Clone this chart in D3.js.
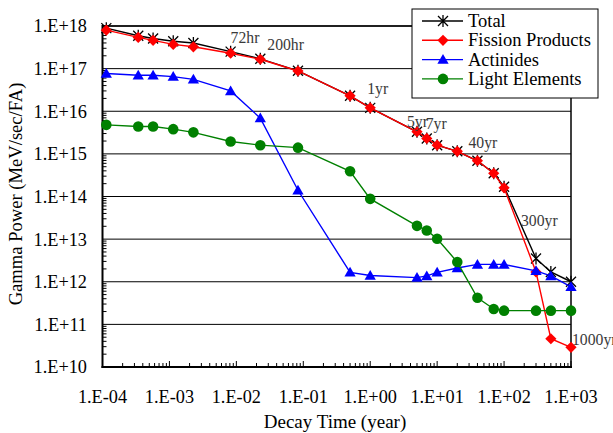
<!DOCTYPE html>
<html>
<head>
<meta charset="utf-8">
<script src="https://cdn.jsdelivr.net/npm/d3@7"></script>
<style>
  body { margin: 0; background: #fff; }
</style>
</head>
<body>
<svg id="chart" width="613" height="433" style="display:block"></svg>
<script>
// decay times (years): 1h,3h,5h,10h,20h,72h,200h,1mo,0.5y,1y,5y,7y,10y,20y,40y,70y,100y,300y,500y,1000y
const decayTimes = [1.14e-4, 3.42e-4, 5.70e-4, 1.14e-3, 2.28e-3, 8.21e-3, 2.28e-2, 8.33e-2, 0.5, 1, 5, 7, 10, 20, 40, 70, 100, 300, 500, 1000];

const totalPower = [8.9e17, 5.9e17, 5.1e17, 4.4e17, 4.0e17, 2.5e17, 1.7e17, 8.9e16, 2.3e16, 1.2e16, 3.3e15, 2.3e15, 1.6e15, 1.15e15, 6.9e14, 3.5e14, 1.7e14, 3.5e12, 1.7e12, 1.0e12];
const fissionPower = [8.0e17, 5.4e17, 4.6e17, 3.7e17, 3.25e17, 2.3e17, 1.66e17, 8.8e16, 2.3e16, 1.2e16, 3.3e15, 2.3e15, 1.6e15, 1.15e15, 6.9e14, 3.5e14, 1.6e14, 1.7e12, 4.6e10, 2.9e10];
const actinidePower = [7.7e16, 7.0e16, 7.0e16, 6.5e16, 5.6e16, 3.0e16, 6.9e15, 1.4e14, 1.66e12, 1.4e12, 1.25e12, 1.37e12, 1.66e12, 2.1e12, 2.55e12, 2.55e12, 2.55e12, 1.8e12, 1.37e12, 7.6e11];
const lightPower = [4.8e15, 4.4e15, 4.4e15, 3.8e15, 3.2e15, 1.95e15, 1.6e15, 1.4e15, 3.9e14, 8.8e13, 2.05e13, 1.6e13, 1.02e13, 2.9e12, 4.2e11, 2.3e11, 2.1e11, 2.1e11, 2.1e11, 2.1e11];

const seriesNames = ["Total", "Fission Products", "Actinides", "Light Elements"];
const xTickLabels = ["1.E-04", "1.E-03", "1.E-02", "1.E-01", "1.E+00", "1.E+01", "1.E+02", "1.E+03"];
const yTickLabels = ["1.E+10", "1.E+11", "1.E+12", "1.E+13", "1.E+14", "1.E+15", "1.E+16", "1.E+17", "1.E+18"];

// time labels placed next to points of the total curve
const noteLabels = ["72hr", "200hr", "1yr", "5yr", "7yr", "40yr", "300yr", "1000yr"];
const noteTimes = [8.21e-3, 2.28e-2, 1, 5, 7, 40, 300, 1000];

const svg = d3.select("#chart");
const pLeft = 102.5, pRight = 571, pTop = 26, pBottom = 367;
const serif = "Liberation Serif";

const x = d3.scaleLog().domain([1e-4, 1e3]).range([pLeft, pRight]);
const y = d3.scaleLog().domain([1e10, 1e18]).range([pBottom, pTop]);

const xDecades = d3.range(-4, 4).map(e => Math.pow(10, e));
const yDecades = d3.range(10, 19).map(e => Math.pow(10, e));

// horizontal grid
svg.append("g").selectAll("line").data(yDecades).join("line")
  .attr("x1", pLeft).attr("x2", pRight)
  .attr("y1", d => y(d)).attr("y2", d => y(d))
  .attr("stroke", "#000").attr("stroke-width", 1);

// frame top/right
svg.append("line").attr("x1", pLeft).attr("x2", pRight).attr("y1", pTop).attr("y2", pTop)
  .attr("stroke", "#000").attr("stroke-width", 1.5);
svg.append("line").attr("x1", pRight).attr("x2", pRight).attr("y1", pTop).attr("y2", pBottom)
  .attr("stroke", "#000").attr("stroke-width", 1.5);

// minor ticks
const minors = (lo, hi) => {
  const out = [];
  for (let e = lo; e < hi; e++) for (let m = 2; m <= 9; m++) out.push(m * Math.pow(10, e));
  return out;
};
svg.append("g").selectAll("line").data(minors(10, 18)).join("line")
  .attr("x1", pLeft).attr("x2", pLeft + 4)
  .attr("y1", d => y(d)).attr("y2", d => y(d))
  .attr("stroke", "#000").attr("stroke-width", 1);
svg.append("g").selectAll("line").data(minors(-4, 3)).join("line")
  .attr("x1", d => x(d)).attr("x2", d => x(d))
  .attr("y1", pBottom).attr("y2", pBottom - 4)
  .attr("stroke", "#000").attr("stroke-width", 1);
svg.append("g").selectAll("line").data(xDecades.slice(1)).join("line")
  .attr("x1", d => x(d)).attr("x2", d => x(d))
  .attr("y1", pBottom).attr("y2", pBottom - 6)
  .attr("stroke", "#000").attr("stroke-width", 1);

// axes lines
svg.append("line").attr("x1", pLeft).attr("x2", pLeft).attr("y1", pTop - 1).attr("y2", pBottom + 1)
  .attr("stroke", "#000").attr("stroke-width", 2);
svg.append("line").attr("x1", pLeft - 1).attr("x2", pRight + 1).attr("y1", pBottom).attr("y2", pBottom)
  .attr("stroke", "#000").attr("stroke-width", 2);

// tick labels
svg.append("g").selectAll("text").data(yDecades).join("text")
  .attr("x", 87).attr("y", d => y(d)).attr("dy", "0.35em")
  .attr("text-anchor", "end").attr("font-size", 18.3).attr("font-family", serif)
  .text((d, i) => yTickLabels[i]);
svg.append("g").selectAll("text").data(xDecades).join("text")
  .attr("x", d => x(d)).attr("y", 403)
  .attr("text-anchor", "middle").attr("font-size", 18.3).attr("font-family", serif)
  .text((d, i) => xTickLabels[i]);

// axis titles
svg.append("text").attr("x", 335).attr("y", 428)
  .attr("text-anchor", "middle").attr("font-size", 19).attr("font-family", serif)
  .text("Decay Time (year)");
svg.append("text").attr("transform", "translate(22,194) rotate(-90)")
  .attr("text-anchor", "middle").attr("font-size", 18.6).attr("font-family", serif)
  .text("Gamma Power (MeV/sec/FA)");

// marker symbols
const star = "M-5,-5L5,5M-5,5L5,-5M0,-6L0,6";
const styles = [
  { color: "#000000", marker: "star" },
  { color: "#FF0000", marker: d3.symbol(d3.symbolDiamond2, 80)() },
  { color: "#0000FF", marker: d3.symbol(d3.symbolTriangle, 55)() },
  { color: "#008000", marker: d3.symbol(d3.symbolCircle, 88)() }
];
const allSeries = [totalPower, fissionPower, actinidePower, lightPower];

const line = d3.line().x(d => x(d[0])).y(d => y(d[1]));

function drawMarker(g, s, px, py) {
  if (s.marker === "star") {
    g.append("path").attr("d", star).attr("transform", `translate(${px},${py})`)
      .attr("stroke", s.color).attr("stroke-width", 1.3).attr("fill", "none");
  } else {
    const t = s.marker === styles[2].marker ? `translate(${px},${py + 1})` : `translate(${px},${py})`;
    g.append("path").attr("d", s.marker).attr("transform", t).attr("fill", s.color);
  }
}

allSeries.forEach((vals, i) => {
  const pts = decayTimes.map((t, j) => [t, vals[j]]);
  const g = svg.append("g");
  g.append("path").attr("d", line(pts)).attr("fill", "none")
    .attr("stroke", styles[i].color).attr("stroke-width", 1.4);
  pts.forEach(p => drawMarker(g, styles[i], x(p[0]), y(p[1])));
});

// notes
const noteOffsets = [[0, -9], [7, -9], [-3, -14], [-10, -5], [-1, -9], [-9, -13], [-15, -33], [1, 63]];
svg.append("g").selectAll("text").data(noteLabels).join("text")
  .attr("x", (d, i) => x(noteTimes[i]) + noteOffsets[i][0])
  .attr("y", (d, i) => y(totalPower[decayTimes.indexOf(noteTimes[i])]) + noteOffsets[i][1])
  .attr("font-size", 15.7).attr("font-family", serif).attr("fill", "#3a3a3a")
  .text(d => d);

// legend
const lg = svg.append("g").attr("transform", "translate(412,9)");
lg.append("rect").attr("width", 186).attr("height", 89)
  .attr("fill", "#fff").attr("stroke", "#000").attr("stroke-width", 1);
seriesNames.forEach((name, i) => {
  const cy = 12 + i * 19.3;
  lg.append("line").attr("x1", 10).attr("x2", 51).attr("y1", cy).attr("y2", cy)
    .attr("stroke", styles[i].color).attr("stroke-width", 1.4);
  drawMarker(lg, styles[i], 31, cy);
  lg.append("text").attr("x", 56).attr("y", cy + 6).attr("font-size", 18.5).attr("font-family", serif)
    .text(name);
});
</script>
</body>
</html>
